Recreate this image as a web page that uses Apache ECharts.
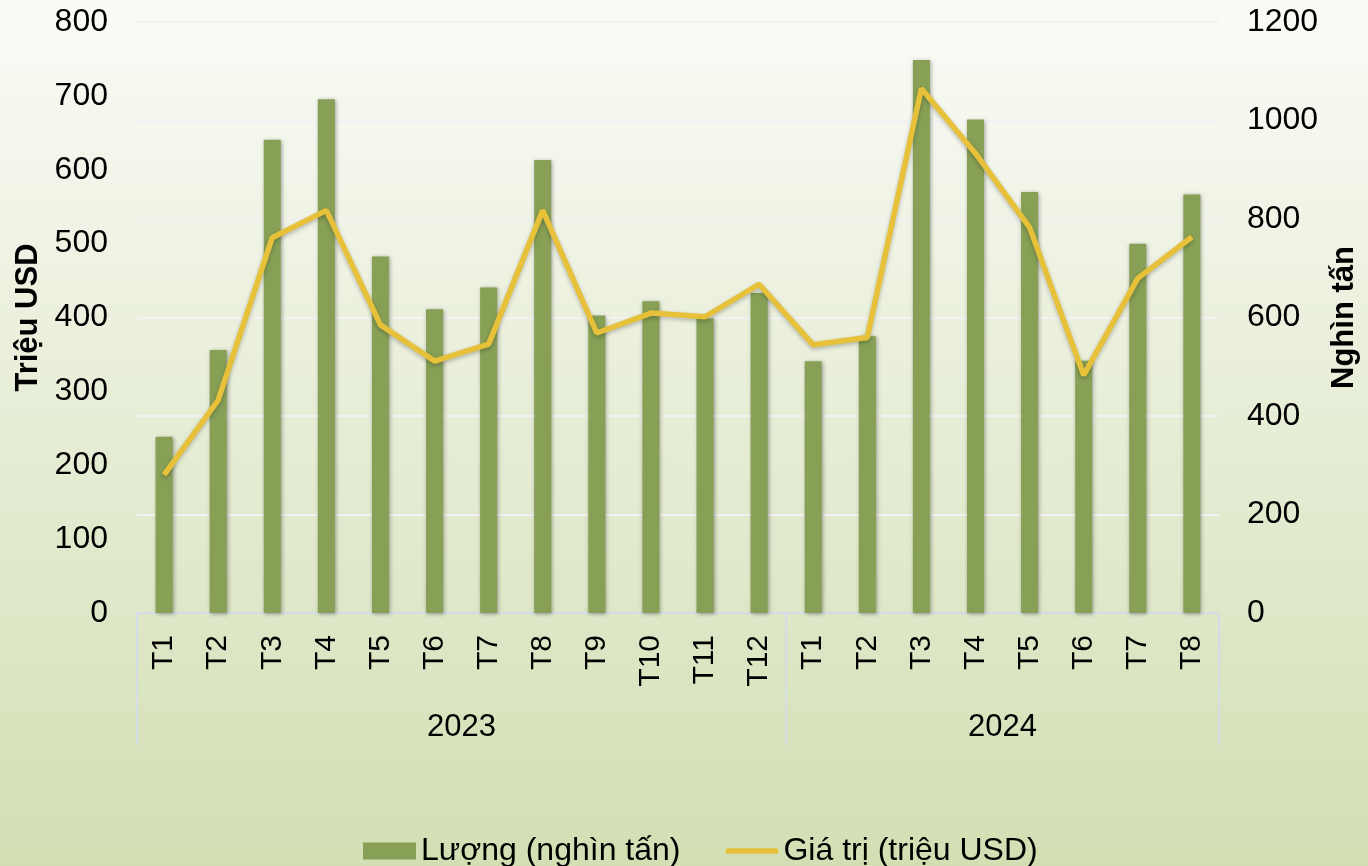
<!DOCTYPE html>
<html>
<head>
<meta charset="utf-8">
<script src="https://cdn.jsdelivr.net/npm/echarts@6/dist/echarts.min.js"></script>
<style>
html,body{margin:0;padding:0;}
#chart{width:1368px;height:866px;}
</style>
</head>
<body>
<div id="chart"></div>
<script>
// ---- data ----
const months = ['T1','T2','T3','T4','T5','T6','T7','T8','T9','T10','T11','T12',
                'T1','T2','T3','T4','T5','T6','T7','T8'];
const years = ['2023','2024'];
const yearMonthCounts = [12, 8];
const quantity = [358, 534, 961, 1043, 724, 617, 661, 920, 604, 633, 598, 650,
                  511, 562, 1123, 1002, 855, 512, 750, 850];   // nghìn tấn
const value = [187, 288, 508, 545, 390, 341, 364, 545, 379, 406, 401, 445,
               363, 373, 710, 622, 522, 322, 453, 509];          // triệu USD
const leftTicks = {min: 0, max: 800, interval: 100};
const rightTicks = {min: 0, max: 1200, interval: 200};
const seriesNames = ['Lượng (nghìn tấn)', 'Giá trị (triệu USD)'];
const axisNames = ['Triệu USD', 'Nghìn tấn'];

// group boundaries / centers along the category axis
const bounds = [0];
yearMonthCounts.forEach(c => bounds.push(bounds[bounds.length - 1] + c));
const centers = years.map((y, i) => (bounds[i] + bounds[i + 1]) / 2);

const FONT = 'Arial, "Liberation Sans", sans-serif';
const sepColor = '#d3dde8';
const barColor = '#87a055';
const lineColor = '#e8c13b';

const chart = echarts.init(document.getElementById('chart'));
chart.setOption({
  backgroundColor: new echarts.graphic.LinearGradient(0, 0, 0, 1, [
    {offset: 0, color: '#fafbf7'},
    {offset: 1, color: '#d2dfb3'}
  ]),
  textStyle: {fontFamily: FONT, color: '#000'},
  grid: {left: 137, right: 148, top: 22, bottom: 253, containLabel: false},
  legend: {
    data: [
      {name: seriesNames[0], icon: 'rect', itemStyle: {color: barColor}},
      {name: seriesNames[1], icon: 'path://M3,0 L53,0 A3,3 0 0 1 53,6 L3,6 A3,3 0 0 1 3,0 Z',
       itemStyle: {color: lineColor, borderWidth: 0}}
    ],
    left: 358, top: 830,
    itemWidth: 53, itemHeight: 17, itemGap: 45,
    textStyle: {fontSize: 32, color: '#000', fontFamily: FONT}
  },
  xAxis: [
    {
      type: 'category', data: months, position: 'bottom',
      axisLine: {show: true, lineStyle: {color: sepColor, width: 2}},
      axisTick: {show: false},
      axisLabel: {rotate: 90, fontSize: 30, color: '#000', margin: 22, fontFamily: FONT, interval: 0}
    },
    {
      type: 'value', position: 'bottom', min: 0, max: bounds[bounds.length - 1],
      axisLine: {show: false},
      splitLine: {show: false},
      axisTick: {show: true, customValues: bounds, length: 132, inside: false,
                 lineStyle: {color: sepColor, width: 2}},
      axisLabel: {show: true, customValues: centers, fontSize: 31, color: '#000', margin: 99,
                  fontFamily: FONT,
                  formatter: v => { const i = centers.indexOf(v); return i >= 0 ? years[i] : ''; }}
    }
  ],
  yAxis: [
    {
      type: 'value', position: 'left', min: leftTicks.min, max: leftTicks.max, interval: leftTicks.interval,
      name: axisNames[0], nameLocation: 'middle', nameGap: 85,
      nameTextStyle: {fontSize: 31, fontWeight: 'bold', color: '#000', fontFamily: FONT},
      axisLine: {show: false}, axisTick: {show: false},
      splitLine: {show: false},
      axisLabel: {fontSize: 32, color: '#000', margin: 29, fontFamily: FONT, formatter: v => String(v)}
    },
    {
      type: 'value', position: 'right', min: rightTicks.min, max: rightTicks.max, interval: rightTicks.interval,
      name: axisNames[1], nameLocation: 'middle', nameGap: 104,
      nameTextStyle: {fontSize: 31, fontWeight: 'bold', color: '#000', fontFamily: FONT},
      axisLine: {show: false}, axisTick: {show: false},
      splitLine: {show: true, lineStyle: {color: '#f3f1f1', width: 2}},
      axisLabel: {fontSize: 32, color: '#000', margin: 28, fontFamily: FONT, formatter: v => String(v)}
    }
  ],
  series: [
    {
      name: seriesNames[0], type: 'bar', xAxisIndex: 0, yAxisIndex: 1,
      data: quantity, barWidth: 17,
      itemStyle: {color: barColor, shadowColor: 'rgba(0,0,0,0.35)', shadowBlur: 4, shadowOffsetX: 1, shadowOffsetY: 1}
    },
    {
      name: seriesNames[1], type: 'line', xAxisIndex: 0, yAxisIndex: 0,
      data: value, symbol: 'none', z: 5,
      lineStyle: {color: lineColor, width: 5.5, shadowColor: 'rgba(0,0,0,0.25)', shadowBlur: 4, shadowOffsetY: 2},
      itemStyle: {color: lineColor}
    }
  ]
});
</script>
</body>
</html>
